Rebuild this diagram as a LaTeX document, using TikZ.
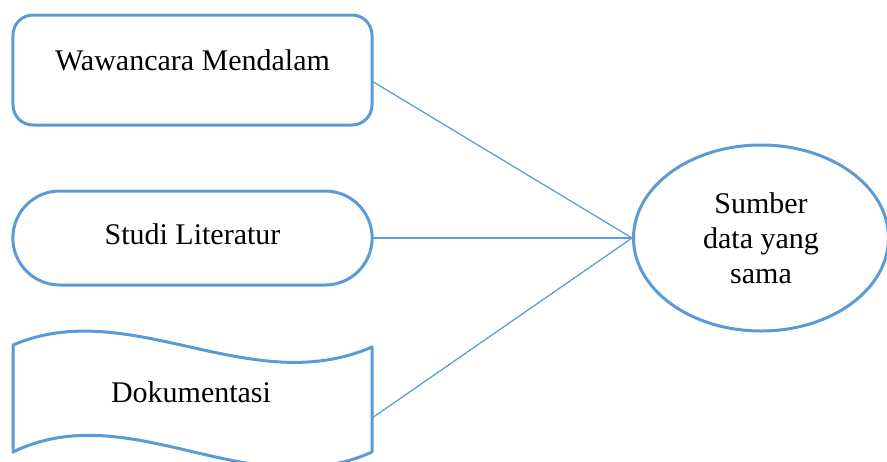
\documentclass[tikz,border=0pt]{standalone}
\usepackage{fontspec}
\setmainfont{Liberation Serif}
\usetikzlibrary{shapes.geometric,shapes.misc}
\definecolor{garis}{HTML}{5B9BD5}
\tikzset{
  every picture/.style={line join=round, line cap=round},
  bentuk/.style={draw=garis, line width=1.2pt, fill=white},
  teks/.style={font=\fontsize{12pt}{14pt}\selectfont, anchor=base, inner sep=0pt},
  hubung/.style={draw=garis, line width=0.5pt},
}
\begin{document}
\begin{tikzpicture}[x=0.4pt,y=-0.4pt]
\useasboundingbox (0,0) rectangle (887,461);
% sumber data di kiri
\node[bentuk,rectangle,rounded corners=8pt,minimum width=143.6pt,minimum height=44pt] (wawancara) at (192.5,70) {};
\node[teks] (wawancaraTeks) at (192.5,70) {Wawancara Mendalam};
\node[bentuk,rounded rectangle,minimum width=150.4pt,minimum height=37.6pt] (studi) at (192.5,238) {};
\node[teks] (studiTeks) at (192.5,244) {Studi Literatur};
\draw[bentuk] (13,345) .. controls (130,295) and (250,400) .. (372,347) -- (372,452)
  .. controls (250,507) and (130,395) .. (13,452) -- cycle;
\node[teks] (dokumentasiTeks) at (191,402) {Dokumentasi};
\coordinate (dokumentasi) at (372,418);
% sumber yang sama
\node[bentuk,ellipse,minimum width=102pt,minimum height=74.4pt,align=center,
  font=\fontsize{12pt}{14pt}\selectfont] (sumber) at (761,238) {Sumber\\data yang\\sama};
\draw[hubung] ([yshift=-4.8pt]wawancara.east) -- (sumber.west);
\draw[hubung] (studi.east) -- (sumber.west);
\draw[hubung] (dokumentasi) -- (sumber.west);
\end{tikzpicture}
\end{document}
